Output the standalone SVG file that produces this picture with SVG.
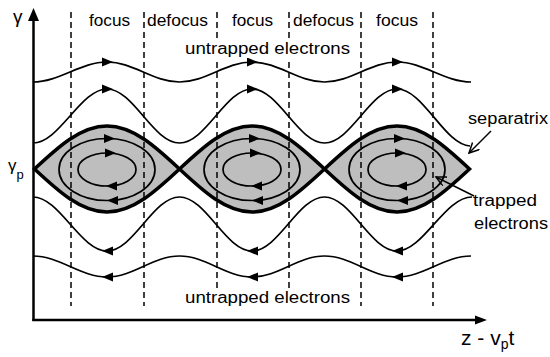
<svg xmlns="http://www.w3.org/2000/svg" width="550" height="357" viewBox="0 0 550 357">
<style>
  text { font-family: "Liberation Sans", Arial, sans-serif; fill: #000; }
  .lbl { font-size: 16px; }
  .wave { fill: none; stroke: #000; stroke-width: 1.7; }
  .orbit { fill: none; stroke: #000; stroke-width: 1.7; }
  .sep { fill: #bebebe; stroke: #000; stroke-width: 3.5; stroke-linejoin: miter; }
  .dash { fill: none; stroke: #000; stroke-width: 1.5; stroke-dasharray: 6 4; }
  .axis { fill: none; stroke: #000; stroke-width: 2.5; }
  .ann { fill: none; stroke: #000; stroke-width: 1.5; }
</style>
<defs>
  <path id="ah" d="M5,0 L-6,-4.5 L-6,4.5 Z" fill="#000"/>
  <marker id="vhead" markerWidth="12" markerHeight="12" refX="10" refY="5" orient="auto" markerUnits="userSpaceOnUse">
    <path d="M0,0 L10,5 L0,10" fill="none" stroke="#000" stroke-width="1.5"/>
  </marker>
</defs>

<rect width="550" height="357" fill="#fff"/>

<g id="buckets">
  <path class="sep" d="M34.5,169 C58.1,147 80.8,126 107,126 C133.2,126 155.9,147 179.5,169 C155.9,191 133.2,212 107,212 C80.8,212 58.1,191 34.5,169 Z"/>
  <path class="sep" d="M179.5,169 C203.1,147 225.8,126 252,126 C278.2,126 300.9,147 324.5,169 C300.9,191 278.2,212 252,212 C225.8,212 203.1,191 179.5,169 Z"/>
  <path class="sep" d="M324.5,169 C348.1,147 370.8,126 397,126 C423.2,126 445.9,147 469.5,169 C445.9,191 423.2,212 397,212 C370.8,212 348.1,191 324.5,169 Z"/>
</g>

<g id="focus-lines">
  <line class="dash" x1="71" y1="12" x2="71" y2="306"/>
  <line class="dash" x1="144" y1="12" x2="144" y2="306"/>
  <line class="dash" x1="217" y1="12" x2="217" y2="306"/>
  <line class="dash" x1="289" y1="12" x2="289" y2="306"/>
  <line class="dash" x1="361" y1="12" x2="361" y2="306"/>
  <line class="dash" x1="433" y1="12" x2="433" y2="306"/>
</g>

<g id="trapped-orbits">
  <ellipse class="orbit" cx="107" cy="169.5" rx="48" ry="31"/>
  <ellipse class="orbit" cx="107" cy="169.5" rx="29" ry="16.5"/>
  <ellipse class="orbit" cx="252" cy="169.5" rx="48" ry="31"/>
  <ellipse class="orbit" cx="252" cy="169.5" rx="29" ry="16.5"/>
  <ellipse class="orbit" cx="397" cy="169.5" rx="48" ry="31"/>
  <ellipse class="orbit" cx="397" cy="169.5" rx="29" ry="16.5"/>
  <use href="#ah" transform="translate(110,138.5)"/>
  <use href="#ah" transform="translate(111,153)"/>
  <use href="#ah" transform="translate(111,186) rotate(180)"/>
  <use href="#ah" transform="translate(112,200.5) rotate(180)"/>
  <use href="#ah" transform="translate(255,138.5)"/>
  <use href="#ah" transform="translate(256,153)"/>
  <use href="#ah" transform="translate(256,186) rotate(180)"/>
  <use href="#ah" transform="translate(257,200.5) rotate(180)"/>
  <use href="#ah" transform="translate(400,138.5)"/>
  <use href="#ah" transform="translate(401,153)"/>
  <use href="#ah" transform="translate(401,186) rotate(180)"/>
  <use href="#ah" transform="translate(402,200.5) rotate(180)"/>
</g>

<g id="untrapped-orbits">
  <path class="wave" d="M33,82 C59.4,82 80.6,62 107,62 C133.4,62 153.1,82 179.5,82 C205.9,82 225.6,62 252,62 C278.4,62 298.1,82 324.5,82 C350.9,82 370.6,62 397,62 C423.4,62 444.6,82 471,82"/>
  <path class="wave" d="M33,143 C59.4,143 80.6,89 107,89 C133.4,89 153.1,143 179.5,143 C205.9,143 225.6,89 252,89 C278.4,89 298.1,143 324.5,143 C350.9,143 370.6,89 397,89 C423.4,89 444.6,145 470,146"/>
  <path class="wave" d="M33,197 C59.4,197 80.6,251 107,251 C133.4,251 153.1,197 179.5,197 C205.9,197 225.6,251 252,251 C278.4,251 298.1,197 324.5,197 C350.9,197 370.6,251 397,251 C423.4,251 444.6,197 472,197"/>
  <path class="wave" d="M33,256 C59.4,256 80.6,277 107,277 C133.4,277 153.1,256 179.5,256 C205.9,256 225.6,277 252,277 C278.4,277 298.1,256 324.5,256 C350.9,256 370.6,277 397,277 C423.4,277 444.6,256 471,256"/>
  <use href="#ah" transform="translate(108,62)"/>
  <use href="#ah" transform="translate(253,62)"/>
  <use href="#ah" transform="translate(398,62)"/>
  <use href="#ah" transform="translate(108,89)"/>
  <use href="#ah" transform="translate(253,89)"/>
  <use href="#ah" transform="translate(398,89)"/>
  <use href="#ah" transform="translate(107,251) rotate(180)"/>
  <use href="#ah" transform="translate(252,251) rotate(180)"/>
  <use href="#ah" transform="translate(397,251) rotate(180)"/>
  <use href="#ah" transform="translate(107,277) rotate(180)"/>
  <use href="#ah" transform="translate(252,277) rotate(180)"/>
  <use href="#ah" transform="translate(397,277) rotate(180)"/>
</g>

<g id="axes">
  <line class="axis" x1="33.5" y1="18" x2="33.5" y2="321"/>
  <line class="axis" x1="32.3" y1="320" x2="477" y2="320"/>
  <path d="M33.5,8 L39,21 L28,21 Z" fill="#000"/>
  <path d="M487,320 L475,315.5 L475,324.5 Z" fill="#000"/>
  <text x="13" y="23" font-size="19">γ</text>
  <text x="8" y="171" font-size="17">γ<tspan font-size="13" dy="8">p</tspan></text>
  <text x="461" y="345" font-size="21">z - v<tspan font-size="14" dy="3.5">p</tspan><tspan dy="-3.5">t</tspan></text>
</g>

<g id="zone-labels">
  <text class="lbl" x="109.5" y="26" text-anchor="middle" textLength="41" lengthAdjust="spacingAndGlyphs">focus</text>
  <text class="lbl" x="177.5" y="26" text-anchor="middle" textLength="61" lengthAdjust="spacingAndGlyphs">defocus</text>
  <text class="lbl" x="252.5" y="26" text-anchor="middle" textLength="41" lengthAdjust="spacingAndGlyphs">focus</text>
  <text class="lbl" x="323.5" y="26" text-anchor="middle" textLength="61" lengthAdjust="spacingAndGlyphs">defocus</text>
  <text class="lbl" x="397" y="26" text-anchor="middle" textLength="42" lengthAdjust="spacingAndGlyphs">focus</text>
</g>

<g id="untrapped-labels">
  <rect x="183" y="40" width="170" height="18" fill="#fff"/>
  <text class="lbl" x="185" y="54" textLength="165" lengthAdjust="spacingAndGlyphs">untrapped electrons</text>
  <rect x="183" y="289" width="170" height="18" fill="#fff"/>
  <text class="lbl" x="185" y="303" textLength="165" lengthAdjust="spacingAndGlyphs">untrapped electrons</text>
</g>

<g id="annotations">
  <line class="ann" x1="491" y1="131" x2="469" y2="153" marker-end="url(#vhead)"/>
  <text class="lbl" x="468" y="124" textLength="80" lengthAdjust="spacingAndGlyphs">separatrix</text>
  <line class="ann" x1="474" y1="196" x2="436" y2="177" marker-end="url(#vhead)"/>
  <text class="lbl" x="473" y="206" textLength="64" lengthAdjust="spacingAndGlyphs">trapped</text>
  <text class="lbl" x="474" y="229" textLength="74" lengthAdjust="spacingAndGlyphs">electrons</text>
</g>
</svg>
